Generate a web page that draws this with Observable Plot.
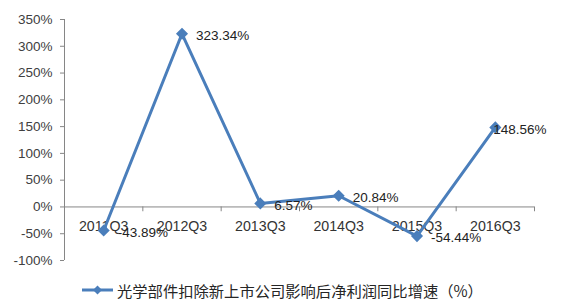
<!DOCTYPE html>
<html><head><meta charset="utf-8">
<script src="https://cdn.jsdelivr.net/npm/d3@7"></script>
<script src="https://cdn.jsdelivr.net/npm/@observablehq/plot@0.6"></script>
<style>
body{margin:0;background:#fff;font-family:"Liberation Sans",Arial,sans-serif;width:571px;height:302px;overflow:hidden;}
#legend{position:relative;height:32px;}
#legend svg{position:absolute;left:82px;top:14px;}
#legend span{position:absolute;left:117px;top:9px;font-family:"Noto Sans CJK SC",sans-serif;font-size:15.3px;line-height:22px;color:#262626;white-space:nowrap;}
</style></head><body>
<div id="chart"></div>
<div id="legend"></div>
<script>
const categories = ["2011Q3","2012Q3","2013Q3","2014Q3","2015Q3","2016Q3"];
const growth = [-43.89, 323.34, 6.57, 20.84, -54.44, 148.56];
const yTicks = [-100,-50,0,50,100,150,200,250,300,350];
const seriesName = "光学部件扣除新上市公司影响后净利润同比增速（%）";
const lineColor = "#4A7EBB";
const axisColor = "#868686";

const data = categories.map((c, i) => ({cat: c, pos: i + 0.5, v: growth[i]}));
const bounds = d3.range(categories.length + 1);
const fmt = d => d.v.toFixed(2) + "%";

const plot = Plot.plot({
  width: 571, height: 270,
  marginLeft: 64, marginRight: 37, marginTop: 19, marginBottom: 10,
  style: {fontFamily: "'Liberation Sans', Arial, sans-serif", fontSize: "13.5px", background: "white", color: "#404040"},
  x: {domain: [0, categories.length], axis: null},
  y: {domain: [-100, 350], axis: null},
  marks: [
    Plot.axisY(yTicks, {tickFormat: d => d + "%", tickSize: 4, tickPadding: 8, stroke: axisColor, fill: "#404040", fontSize: 13.5, label: null}),
    Plot.ruleX([0], {y1: -100, y2: 350, stroke: axisColor}),
    Plot.ruleY([0], {x1: 0, x2: categories.length, stroke: axisColor}),
    Plot.ruleX(bounds, {x: d => d, y1: 0, y2: -9, stroke: axisColor}),
    Plot.text(data, {x: "pos", y: 0, text: "cat", dy: 19.5, fill: "#333", fontSize: 14.2}),
    Plot.line(data, {x: "pos", y: "v", stroke: lineColor, strokeWidth: 3}),
    Plot.dot(data, {x: "pos", y: "v", symbol: "diamond2", r: 4.5, fill: lineColor, stroke: lineColor}),
    Plot.text(data.slice(0, -1), {x: "pos", y: "v", text: fmt, textAnchor: "start", dx: 14, dy: 2, fill: "#222", fontSize: 13.5}),
    Plot.text(data.slice(-1), {x: "pos", y: "v", text: fmt, textAnchor: "start", dx: -2, dy: 2, fill: "#222", fontSize: 13.5})
  ]
});
document.getElementById("chart").appendChild(plot);

const leg = document.getElementById("legend");
leg.innerHTML = `<svg width="32" height="12"><line x1="0" y1="6" x2="31" y2="6" stroke="${lineColor}" stroke-width="3"/><path d="M15.5 1.5 L20 6 L15.5 10.5 L11 6 Z" fill="${lineColor}"/></svg><span></span>`;
leg.querySelector("span").textContent = seriesName;
</script>
</body></html>
